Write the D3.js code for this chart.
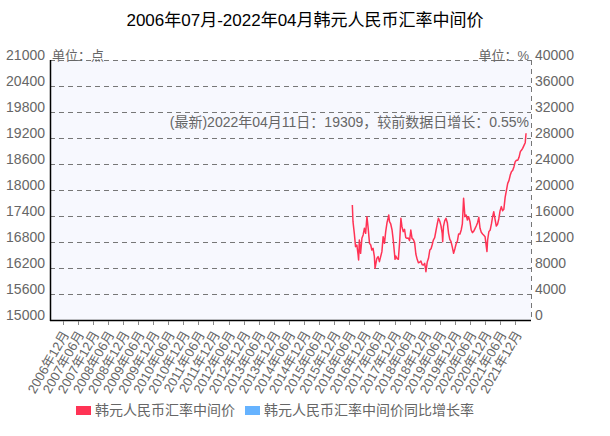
<!DOCTYPE html>
<html><head><meta charset="utf-8">
<script src="https://cdn.jsdelivr.net/npm/d3@7"></script>
<style>
html,body{margin:0;padding:0;background:#fff;}
text{font-family:"Liberation Sans","Noto Sans CJK SC",sans-serif;}
</style></head>
<body><svg id="c" width="610" height="436"></svg>
<script>
const title = "2006年07月-2022年04月韩元人民币汇率中间价";
const seriesNames = ["韩元人民币汇率中间价", "韩元人民币汇率中间价同比增长率"];
const seriesColors = ["#FF3355", "#66B3FF"];
const leftTicks = [15000,15600,16200,16800,17400,18000,18600,19200,19800,20400,21000];
const rightTicks = [0,4000,8000,12000,16000,20000,24000,28000,32000,36000,40000];
const xTickLabels = ["2006年12月","2007年06月","2007年12月","2008年06月","2008年12月","2009年06月","2009年12月","2010年06月","2010年12月","2011年06月","2011年12月","2012年06月","2012年12月","2013年06月","2013年12月","2014年06月","2014年12月","2015年06月","2015年12月","2016年06月","2016年12月","2017年06月","2017年12月","2018年06月","2018年12月","2019年06月","2019年12月","2020年06月","2020年12月","2021年06月","2021年12月"];
const latestNote = "(最新)2022年04月11日：19309，较前数据日增长：0.55%";
const dates = ["2016-07-08","2016-07-16","2016-08-01","2016-08-16","2016-09-01","2016-09-16","2016-09-22","2016-10-01","2016-10-16","2016-11-01","2016-11-16","2016-12-01","2016-12-16",
"2017-01-01","2017-01-16","2017-02-01","2017-02-16","2017-03-01","2017-03-16","2017-04-01","2017-04-09","2017-04-16","2017-05-01","2017-05-16","2017-06-01","2017-06-16","2017-07-01","2017-07-16","2017-08-01","2017-08-16","2017-09-01","2017-09-16","2017-09-22","2017-10-01","2017-10-16","2017-11-01","2017-11-16","2017-12-01","2017-12-07","2017-12-16",
"2018-01-01","2018-01-16","2018-02-01","2018-02-16","2018-03-01","2018-03-16","2018-04-01","2018-04-16","2018-05-01","2018-05-16","2018-06-01","2018-06-16","2018-07-01","2018-07-16","2018-08-01","2018-08-16","2018-09-01","2018-09-16","2018-10-01","2018-10-16","2018-11-01","2018-11-16","2018-12-01","2018-12-16",
"2019-01-01","2019-01-16","2019-02-01","2019-02-16","2019-03-01","2019-03-16","2019-04-01","2019-04-16","2019-05-01","2019-05-16","2019-06-01","2019-06-16","2019-07-01","2019-07-07","2019-07-16","2019-08-01","2019-08-16","2019-09-01","2019-09-16","2019-10-01","2019-10-16","2019-11-01","2019-11-16","2019-12-01","2019-12-16",
"2020-01-01","2020-01-16","2020-02-01","2020-02-16","2020-03-01","2020-03-16","2020-04-01","2020-04-16","2020-05-01","2020-05-16","2020-06-01","2020-06-16","2020-07-01","2020-07-16","2020-08-01","2020-08-16","2020-09-01","2020-09-16","2020-10-01","2020-10-16","2020-11-01","2020-11-16","2020-12-01","2020-12-16","2020-12-24",
"2021-01-01","2021-01-16","2021-02-01","2021-02-16","2021-03-01","2021-03-16","2021-04-01","2021-04-16","2021-05-01","2021-05-16","2021-06-01","2021-06-16","2021-07-01","2021-07-16","2021-08-01","2021-08-16","2021-09-01","2021-09-16","2021-10-01","2021-10-16","2021-11-01","2021-11-16","2021-12-01","2021-12-16",
"2022-01-01","2022-01-16","2022-02-01","2022-02-16","2022-03-01","2022-03-16","2022-04-01","2022-04-11"];
const values = [17654,17269,17000,16693,16731,16500,16385,16846,16539,16885,16962,17116,17000,
17385,17116,16769,16731,16615,16654,16462,16193,16269,16423,16462,16346,16462,16577,16923,16769,17039,17246,17369,17423,17269,17216,17077,16831,16523,16400,16477,
16416,16400,16808,17346,17154,17039,17093,16900,16885,16893,16831,17077,16885,16862,16785,16523,16400,16323,16331,16362,16277,16269,16308,16115,
16339,16423,16615,16646,16731,16846,16900,17054,17208,17346,17285,17177,17000,16808,17154,17292,17346,17246,17000,16862,16808,16677,16539,16639,16754,
16823,16985,16985,17077,17216,17808,17385,17423,17308,17385,17269,17077,17016,17046,17108,17169,17246,17369,17116,17023,16985,16954,16923,16693,16580,
16846,17039,17077,17216,17369,17500,17323,17169,17208,17331,17523,17616,17523,17554,17831,17985,18154,18216,18339,18423,18454,18539,18654,18685,
18685,18754,18885,18923,18962,19023,19092,19309];
const growthValues = [];

const svg = d3.select("#c");
const L = 50, R = 531, T = 60, B = 320;
const gray = "#666";
const parse = d3.timeParse("%Y-%m-%d");
const x = d3.scaleTime().domain([new Date(2006,6,1), new Date(2022,5,10)]).range([L, R]);
const y = d3.scaleLinear().domain([15000,21000]).range([B, T]);
const y2 = d3.scaleLinear().domain([0,40000]).range([B, T]);

svg.append("rect").attr("x",L).attr("y",T).attr("width",R-L).attr("height",B-T).attr("fill","#F7F8FE");

// grid
svg.append("g").selectAll("line").data(leftTicks.filter(d=>d>15000)).join("line")
  .attr("x1",L).attr("x2",R).attr("y1",d=>y(d)+0.5).attr("y2",d=>y(d)+0.5)
  .attr("stroke","#777").attr("stroke-dasharray","5,4").attr("stroke-width",1);
svg.append("line").attr("x1",R+0.5).attr("x2",R+0.5).attr("y1",T).attr("y2",B)
  .attr("stroke","#777").attr("stroke-dasharray","5,4");

// axis labels
svg.append("g").selectAll("text").data(leftTicks).join("text")
  .attr("x",L-5).attr("y",d=>y(d)-5).attr("dy","0.35em").attr("text-anchor","end")
  .attr("font-size",14).attr("fill",gray).text(d=>d);
svg.append("g").selectAll("text").data(rightTicks).join("text")
  .attr("x",R+4).attr("y",d=>y2(d)-5).attr("dy","0.35em").attr("text-anchor","start")
  .attr("font-size",14).attr("fill",gray).text(d=>d);

// axes lines
svg.append("line").attr("x1",L+0.5).attr("x2",L+0.5).attr("y1",T).attr("y2",B+1).attr("stroke","#000").attr("stroke-width",1.5);
svg.append("line").attr("x1",L).attr("x2",R).attr("y1",B+0.5).attr("y2",B+0.5).attr("stroke","#000").attr("stroke-width",1.5);

// x ticks
const tickDates = xTickLabels.map(s => new Date(+s.slice(0,4), +s.slice(5,7)-1, 1));
svg.append("g").selectAll("line").data(tickDates).join("line")
  .attr("x1",d=>Math.round(x(d))+0.5).attr("x2",d=>Math.round(x(d))+0.5).attr("y1",B+1).attr("y2",B+5)
  .attr("stroke","#888");
svg.append("g").selectAll("text").data(xTickLabels).join("text")
  .attr("transform",(d,i)=>`translate(${x(tickDates[i])+3},${B+12}) rotate(-60)`)
  .attr("text-anchor","end").attr("dy","0.35em").attr("font-size",13).attr("fill",gray).text(d=>d);

// line
const pts = dates.map((d,i)=>[parse(d), values[i]]);
svg.append("path").datum(pts).attr("fill","none").attr("stroke",seriesColors[0]).attr("stroke-width",1.5)
  .attr("stroke-linejoin","round")
  .attr("d", d3.line().x(d=>x(d[0])).y(d=>y(d[1])));

// texts
svg.append("text").attr("x",305).attr("y",20).attr("dy","0.35em").attr("text-anchor","middle")
  .attr("font-size",17).attr("fill","#000").text(title);
svg.append("text").attr("x",52).attr("y",55).attr("dy","0.35em").attr("font-size",13).attr("fill",gray).text("单位：点");
svg.append("text").attr("x",529).attr("y",55).attr("dy","0.35em").attr("text-anchor","end").attr("font-size",13).attr("fill",gray).text("单位：%");
svg.append("text").attr("x",529).attr("y",122).attr("dy","0.35em").attr("text-anchor","end").attr("font-size",14).attr("fill",gray).text(latestNote);

// legend
const lg = svg.append("g");
const lx = [76, 245];
seriesNames.forEach((n,i)=>{
  lg.append("rect").attr("x",lx[i]).attr("y",406).attr("width",15).attr("height",9).attr("fill",seriesColors[i]);
  lg.append("text").attr("x",lx[i]+19).attr("y",410.5).attr("dy","0.35em").attr("font-size",14).attr("fill",gray).text(n);
});
</script></body></html>
